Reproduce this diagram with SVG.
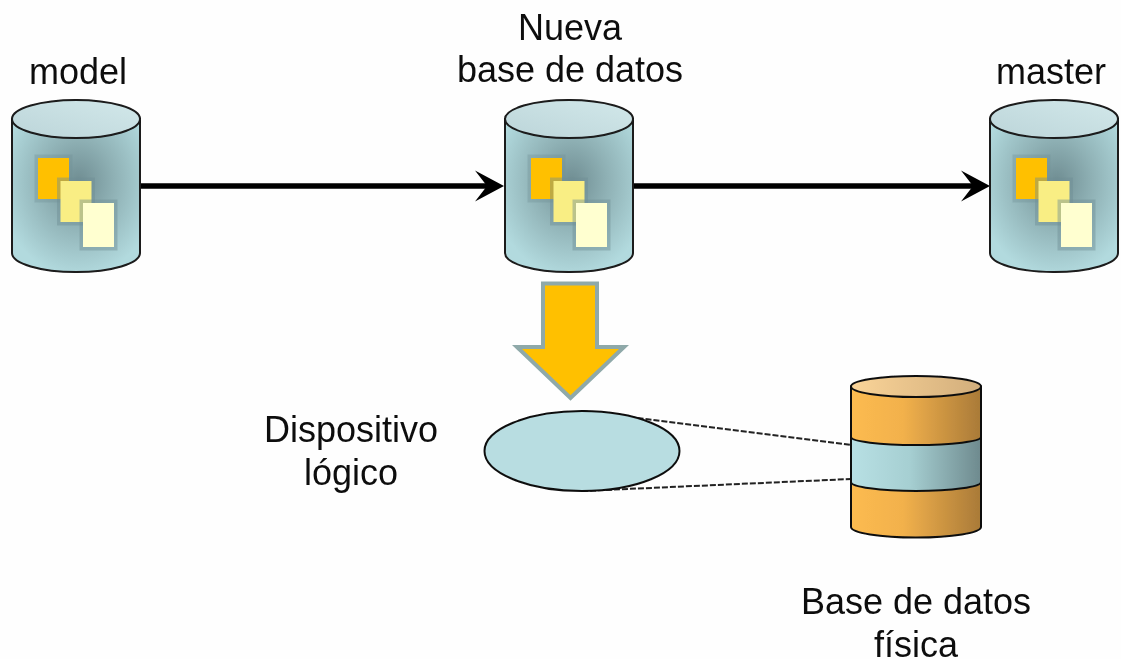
<svg xmlns="http://www.w3.org/2000/svg" width="1121" height="659" viewBox="0 0 1121 659">
<defs>
<radialGradient id="body" gradientUnits="objectBoundingBox" cx="0.52" cy="0.41" r="0.62">
<stop offset="0" stop-color="#6f8d92"/><stop offset="0.45" stop-color="#8fb1b5"/><stop offset="1" stop-color="#b2dade"/>
</radialGradient>
<linearGradient id="lid" x1="0" y1="1" x2="1" y2="0"><stop offset="0" stop-color="#bcd5d9"/><stop offset="1" stop-color="#d2e8ea"/></linearGradient>
<linearGradient id="orange" x1="0" x2="1" y1="0" y2="0"><stop offset="0" stop-color="#fcbb50"/><stop offset="0.4" stop-color="#f2b14c"/><stop offset="1" stop-color="#a97a38"/></linearGradient>
<linearGradient id="teal" x1="0" x2="1" y1="0" y2="0"><stop offset="0" stop-color="#b8e0e4"/><stop offset="0.45" stop-color="#a6cfd2"/><stop offset="1" stop-color="#6e8a8e"/></linearGradient>
<linearGradient id="tan" x1="0" x2="1" y1="0" y2="0"><stop offset="0" stop-color="#fad498"/><stop offset="1" stop-color="#d2ae7c"/></linearGradient>
<marker id="head" markerUnits="userSpaceOnUse" markerWidth="36" markerHeight="34" refX="18" refY="17" orient="auto"><path d="M1 1.500 L30 17 L1 32.500 L13 17 Z" fill="#000"/></marker>
<filter id="soft" x="-5%" y="-5%" width="110%" height="110%"><feGaussianBlur stdDeviation="0.6"/></filter>
<g id="cyl">
<path d="M12 119 V253 A64 19 0 0 0 140 253 V119 Z" fill="url(#body)" stroke="#1a1a1a" stroke-width="2"/>
<ellipse cx="76" cy="119" rx="64" ry="19" fill="url(#lid)" stroke="#1a1a1a" stroke-width="2"/>
<rect x="34.500" y="154.500" width="38" height="48" fill="#6f8e94" fill-opacity="0.35"/>
<rect x="38" y="158" width="31" height="41" fill="#ffc000"/>
<rect x="57" y="177.500" width="38" height="48" fill="#6f8e94" fill-opacity="0.45"/>
<rect x="60.500" y="181" width="31" height="41" fill="#f9ee84"/>
<rect x="79.500" y="199.500" width="38" height="51" fill="#6f8e94" fill-opacity="0.45"/>
<rect x="83" y="203" width="31" height="44" fill="#ffffd0"/>
</g>
</defs>
<style>
.t{font-family:"Liberation Sans",Arial,sans-serif;font-size:36px;fill:#111;text-anchor:middle}
.c{fill:none;stroke:#000;stroke-width:5.500}
.d{fill:none;stroke:#222;stroke-width:2;stroke-dasharray:6 2}
.o{stroke:#111;stroke-width:2}
</style>
<rect width="1121" height="659" fill="#fefefe"/>
<g filter="url(#soft)">
<g id="connectors">
<path class="c" d="M140 186 H492" marker-end="url(#head)"/>
<path class="c" d="M634 186 H978" marker-end="url(#head)"/>
<path class="d" d="M582 411 L851 445"/>
<path class="d" d="M582 491 L851 479"/>
</g>
<g id="model"><use href="#cyl"/><text class="t" x="78" y="84">model</text></g>
<g id="nueva"><use href="#cyl" x="493"/><text class="t" x="570" y="40">Nueva</text><text class="t" x="570" y="82">base de datos</text></g>
<g id="master"><use href="#cyl" x="978"/><text class="t" x="1051" y="84">master</text></g>
<g id="flecha"><path d="M543 283.500 H597 V347 H624 L570.500 398 L517 347 H543 Z" fill="#ffc000" stroke="#8fa9a9" stroke-width="4"/></g>
<g id="dispositivo"><ellipse cx="582" cy="451" rx="97.500" ry="40" fill="#b8dde1" stroke="#111" stroke-width="2"/><text class="t" x="351" y="442">Dispositivo</text><text class="t" x="351" y="485">lógico</text></g>
<g id="fisica">
<path class="o" d="M851 386.500 V527 A65 10.500 0 0 0 981 527 V386.500 Z" fill="url(#orange)"/>
<path class="o" d="M851 437 A65 8 0 0 0 981 437 V482 A65 9 0 0 1 851 482 Z" fill="url(#teal)"/>
<ellipse class="o" cx="916" cy="386.500" rx="65" ry="10.500" fill="url(#tan)"/>
<text class="t" x="916" y="614">Base de datos</text><text class="t" x="916" y="657">física</text>
</g>
</g>
</svg>
